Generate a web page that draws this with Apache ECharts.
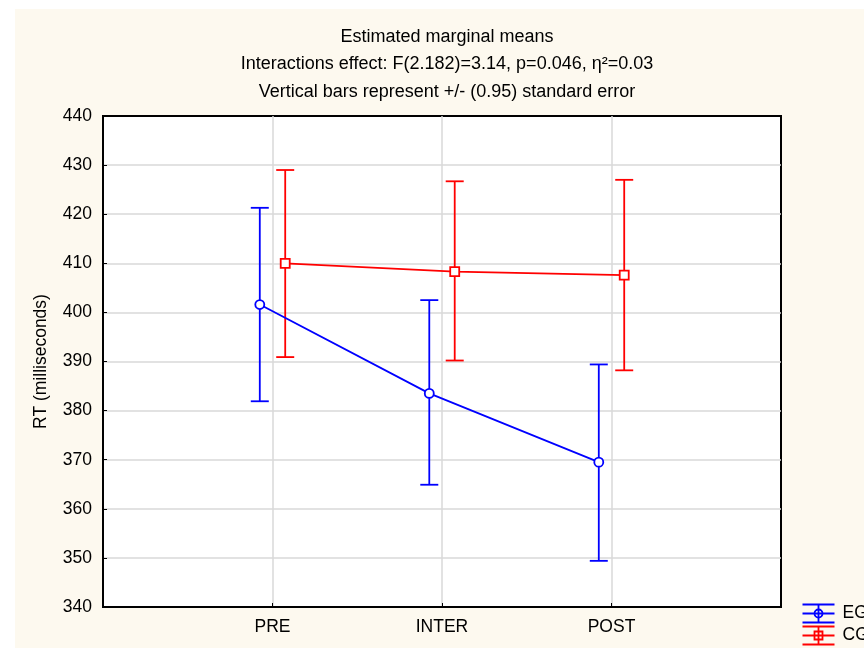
<!DOCTYPE html>
<html>
<head>
<meta charset="utf-8">
<script src="https://cdn.jsdelivr.net/npm/echarts@6/dist/echarts.min.js"></script>
<style>
  html, body { margin: 0; padding: 0; background: #fff; }
  #chart { width: 864px; height: 648px; }
</style>
</head>
<body>
<div id="chart"></div>
<script>
// values
const categories = ['PRE', 'INTER', 'POST']
const egMean = [401.6, 383.5, 369.5]
const egLow = [381.9, 364.9, 349.4]
const egHigh = [421.3, 402.5, 389.4]
const cgMean = [410.0, 408.3, 407.6]
const cgLow = [390.9, 390.2, 388.2]
const cgHigh = [429.0, 426.7, 427.0]
const yTicks = [340, 350, 360, 370, 380, 390, 400, 410, 420, 430, 440]

const BLUE = '#0000ff'
const RED = '#ff0000'
const FONT = 'Liberation Sans'
const FS = 17.5
const LW = 1.8
const dodge = 0.075

const chart = echarts.init(document.getElementById('chart'))

const points = (means, shift) => means.map((v, i) => [i + 1 + shift, v])
const bars = (low, high, shift) => low.map((v, i) => [i + 1 + shift, v, high[i]])

const errorBars = (name, data, color) => ({
  name,
  type: 'custom',
  data,
  z: 3,
  renderItem: (params, api) => {
    const x = api.value(0)
    const top = api.coord([x, api.value(2)])
    const bot = api.coord([x, api.value(1)])
    const half = 9
    const style = { stroke: color, lineWidth: LW }
    return {
      type: 'group',
      children: [
        { type: 'line', shape: { x1: top[0], y1: top[1], x2: bot[0], y2: bot[1] }, style },
        { type: 'line', shape: { x1: top[0] - half, y1: top[1], x2: top[0] + half, y2: top[1] }, style },
        { type: 'line', shape: { x1: bot[0] - half, y1: bot[1], x2: bot[0] + half, y2: bot[1] }, style },
      ],
    }
  },
})

const meanLine = (name, data, color, symbol, size) => ({
  name,
  type: 'line',
  data,
  z: 4,
  symbol,
  symbolSize: size,
  color,
  lineStyle: { color, width: LW },
  itemStyle: { color: '#fff', borderColor: color, borderWidth: LW },
})

// legend drawn as small error-bar glyphs
const legendItem = (label, color, y, marker) => ({
  type: 'group',
  left: 800,
  top: y - 10,
  children: [
    { type: 'line', shape: { x1: 0, y1: 1, x2: 32, y2: 1 }, style: { stroke: color, lineWidth: LW } },
    { type: 'line', shape: { x1: 0, y1: 10, x2: 32, y2: 10 }, style: { stroke: color, lineWidth: LW } },
    { type: 'line', shape: { x1: 0, y1: 19, x2: 32, y2: 19 }, style: { stroke: color, lineWidth: LW } },
    { type: 'line', shape: { x1: 16, y1: 1, x2: 16, y2: 19 }, style: { stroke: color, lineWidth: LW } },
    marker === 'circle'
      ? { type: 'circle', shape: { cx: 16, cy: 10, r: 4 }, style: { fill: 'transparent', stroke: color, lineWidth: LW } }
      : { type: 'rect', shape: { x: 12, y: 6, width: 8, height: 8 }, style: { fill: 'transparent', stroke: color, lineWidth: LW } },
    { type: 'text', x: 40, y: 10, style: { text: label, fill: '#000', font: FS + 'px ' + FONT, verticalAlign: 'middle' } },
  ],
})

chart.setOption({
  backgroundColor: '#fff',
  animation: false,
  textStyle: { fontFamily: FONT },
  title: {
    text: 'Estimated marginal means\nInteractions effect: F(2.182)=3.14, p=0.046, η²=0.03\nVertical bars represent +/- (0.95) standard error',
    left: 442,
    top: 18,
    textAlign: 'center',
    textStyle: { fontFamily: FONT, fontSize: 18, fontWeight: 'normal', color: '#000', lineHeight: 27.5 },
  },
  graphic: [
    { type: 'rect', left: 15, top: 9, z: -10, shape: { width: 849, height: 639 }, style: { fill: '#fdf9ef' } },
    legendItem('EG', BLUE, 612, 'circle'),
    legendItem('CG', RED, 634, 'rect'),
  ],
  grid: {
    left: 103, right: 83, top: 116, bottom: 41,
    show: true, backgroundColor: '#fff', borderColor: '#000', borderWidth: 2,
  },
  xAxis: {
    type: 'value',
    min: 0,
    max: 4,
    interval: 1,
    axisLine: { show: true, onZero: false, lineStyle: { color: '#000', width: 2 } },
    axisTick: { show: true, inside: true, length: 4, lineStyle: { color: '#000' } },
    axisLabel: {
      color: '#000', fontSize: FS, margin: 11, fontFamily: FONT,
      formatter: (v) => categories[v - 1] || '',
    },
    splitLine: { show: true, showMinLine: false, showMaxLine: false, lineStyle: { color: '#d9d9d9', width: 1.5 } },
  },
  yAxis: {
    type: 'value',
    min: yTicks[0],
    max: yTicks[yTicks.length - 1],
    interval: 10,
    name: 'RT (milliseconds)',
    nameLocation: 'middle',
    nameGap: 53,
    nameTextStyle: { color: '#000', fontSize: FS, fontFamily: FONT },
    axisLine: { show: true, lineStyle: { color: '#000', width: 2 } },
    axisTick: { show: true, inside: true, length: 4, lineStyle: { color: '#000' } },
    axisLabel: { color: '#000', fontSize: FS, margin: 11, fontFamily: FONT },
    splitLine: { show: true, showMinLine: false, showMaxLine: false, lineStyle: { color: '#d9d9d9', width: 1.5 } },
  },
  series: [
    errorBars('EG bars', bars(egLow, egHigh, -dodge), BLUE),
    errorBars('CG bars', bars(cgLow, cgHigh, dodge), RED),
    meanLine('EG', points(egMean, -dodge), BLUE, 'circle', 9),
    meanLine('CG', points(cgMean, dodge), RED, 'rect', 9),
  ],
})
</script>
</body>
</html>
